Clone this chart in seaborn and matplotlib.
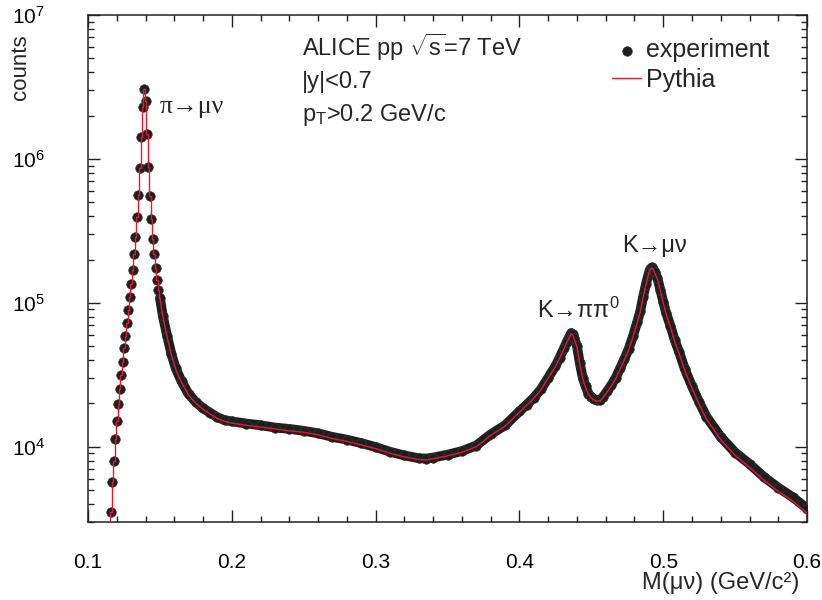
import numpy as np
import pandas as pd
import matplotlib
matplotlib.use("Agg")
import matplotlib.pyplot as plt
import matplotlib.ticker as mticker
import seaborn as sns

# pion peak region, 1 MeV bins (0.116 ... 0.150)
pion_x = np.round(np.arange(0.116, 0.1505, 0.001), 3)
pion_counts = [3500, 5700, 8000, 11400, 15200, 19900, 25300, 31500, 39100, 48400,
               59000, 72300, 88900, 109000, 135000, 169000, 219000, 289000, 393000, 563000,
               861000, 1410000, 2310000, 3050000, 2540000, 1490000, 883000, 553000, 381000, 278000,
               218000, 174000, 145000, 122000, 108000]

# continuum and kaon peaks
mass = [0.152, 0.155, 0.158, 0.161, 0.165, 0.170, 0.175, 0.180, 0.185, 0.190,
        0.195, 0.200, 0.210, 0.220, 0.230, 0.240, 0.250, 0.260, 0.270, 0.280,
        0.290, 0.300, 0.310, 0.320, 0.330, 0.335, 0.340, 0.350, 0.360, 0.370,
        0.380, 0.390, 0.400, 0.405, 0.410, 0.415, 0.420, 0.425, 0.428, 0.431,
        0.433, 0.435, 0.436, 0.437, 0.438, 0.440, 0.442, 0.444, 0.446, 0.448,
        0.450, 0.452, 0.454, 0.456, 0.458, 0.461, 0.464, 0.467, 0.470, 0.473,
        0.476, 0.479, 0.482, 0.484, 0.486, 0.488, 0.490, 0.491, 0.492, 0.493,
        0.494, 0.496, 0.498, 0.500, 0.502, 0.505, 0.508, 0.511, 0.515, 0.520,
        0.525, 0.530, 0.540, 0.550, 0.560, 0.570, 0.580, 0.590, 0.600]
exp_counts = [81000, 59000, 44000, 35000, 28500, 23200, 20400, 18500, 17200, 16000,
              15300, 15000, 14500, 14100, 13600, 13300, 12900, 12400, 11700, 11200,
              10600, 9950, 9230, 8700, 8320, 8280, 8410, 8810, 9330, 10200,
              12200, 14100, 17600, 19600, 21900, 25100, 30200, 36300, 41700, 48400,
              53700, 58900, 61700, 60300, 56900, 50100, 38000, 30200, 26300, 23400,
              22100, 21400, 21000, 21100, 22100, 24300, 26900, 30200, 35100, 40700,
              47900, 58900, 74100, 87100, 110000, 135000, 162000, 172000, 176000, 172000,
              164000, 148000, 123000, 102000, 85100, 69200, 55000, 45700, 34700, 26300,
              20400, 16200, 11700, 9120, 7590, 6170, 5190, 4470, 3720]
pythia_counts = [80000, 58000, 43500, 34500, 28000, 22800, 20000, 18200, 16900, 15700,
                 15000, 14600, 14100, 13700, 13300, 12900, 12600, 12100, 11400, 10900,
                 10300, 9700, 9000, 8500, 8150, 8100, 8250, 8650, 9150, 10000,
                 12000, 13900, 17400, 19400, 21700, 24900, 30000, 36000, 41300, 48000,
                 53200, 58400, 61200, 59800, 56300, 49500, 37500, 29800, 25900, 23100,
                 21800, 21100, 20700, 20800, 21800, 24000, 26500, 29800, 34600, 40200,
                 47300, 58200, 73300, 86200, 109000, 134000, 161000, 171000, 175000, 171000,
                 162000, 146000, 121000, 100000, 83500, 67800, 53700, 44600, 33800, 25500,
                 19700, 15600, 11200, 8700, 7200, 5850, 4900, 4200, 3450]
# empty Pythia bins below threshold sit on the frame bottom
pythia_low_x = [0.100, 0.115]
pythia_low_counts = [3000, 3000]

exp = pd.DataFrame({"m": list(pion_x) + mass, "n": pion_counts + exp_counts})
band = exp[exp["m"] >= 0.150]
pyt_peak = pd.DataFrame({"m": pythia_low_x + list(pion_x),
                         "n": pythia_low_counts + pion_counts})
pyt_rest = pd.DataFrame({"m": [pion_x[-1]] + mass,
                         "n": [pion_counts[-1]] + pythia_counts})

sns.set_style("ticks")
plt.rcParams["font.family"] = ["Liberation Sans", "DejaVu Sans"]
plt.rcParams["mathtext.fontset"] = "custom"
plt.rcParams["mathtext.rm"] = "Liberation Sans"
plt.rcParams["mathtext.it"] = "Liberation Sans:italic"
plt.rcParams["mathtext.default"] = "regular"

fig = plt.figure(figsize=(8.22, 6.0), dpi=100)
ax = fig.add_axes([0.1071, 0.13, 0.8747, 0.845])

sns.lineplot(data=band, x="m", y="n", ax=ax, color="#1e1e1e", linewidth=7.0,
             estimator=None, sort=True, legend=False)
sns.scatterplot(data=exp, x="m", y="n", ax=ax, color="#1e1e1e", s=48,
                edgecolor="#3a3a3a", linewidth=0.4, zorder=3, label="experiment")
sns.lineplot(data=pyt_peak, x="m", y="n", ax=ax, color="#e8192c", linewidth=1.0,
             drawstyle="steps-mid", estimator=None, sort=True, zorder=4, label="Pythia")
sns.lineplot(data=pyt_rest, x="m", y="n", ax=ax, color="#e8192c", linewidth=1.0,
             estimator=None, sort=True, zorder=4, legend=False)

ax.set_yscale("log")
ax.set_xlim(0.1, 0.6)
ax.set_ylim(3000, 1e7)

ax.xaxis.set_major_locator(mticker.MultipleLocator(0.1))
ax.xaxis.set_minor_locator(mticker.MultipleLocator(0.02))
ax.xaxis.set_major_formatter(mticker.FormatStrFormatter("%.1f"))
ax.yaxis.set_major_locator(mticker.LogLocator(base=10, numticks=10))
ax.yaxis.set_minor_locator(mticker.LogLocator(base=10, subs=np.arange(2, 10), numticks=20))
ax.yaxis.set_minor_formatter(mticker.NullFormatter())

ax.tick_params(which="both", direction="in", top=True, right=True, colors="#222222",
               labelcolor="black", width=1.0)
ax.tick_params(which="major", length=8.6)
ax.tick_params(which="minor", length=4.3)
ax.tick_params(axis="x", which="major", labelsize=15, pad=22)
ax.tick_params(axis="y", which="major", labelsize=15, pad=31)
for sp in ax.spines.values():
    sp.set_linewidth(1.1)
    sp.set_color("#222222")

ax.set_xlabel("M(μν) (GeV/c²)", fontsize=17, ha="right", va="center")
ax.xaxis.set_label_coords(0.99, -0.12)
ax.set_ylabel("counts", fontsize=16, ha="right", va="center")
ax.yaxis.set_label_coords(-0.094, 0.962)

ax.text(0.2976, 0.919, r"ALICE pp $\sqrt{s}$=7 TeV", transform=ax.transAxes, fontsize=17)
ax.text(0.2976, 0.856, "|y|<0.7", transform=ax.transAxes, fontsize=17)
ax.text(0.2976, 0.791, r"p$_{T}$>0.2 GeV/c", transform=ax.transAxes, fontsize=17)

ax.text(0.1495, 2.3e6, "π→μν", fontsize=18.5, va="center",
        family=["Liberation Serif", "DejaVu Serif"])
ax.text(0.4125, 8.9e4, r"K→ππ$^{0}$", fontsize=17, va="center")
ax.text(0.4715, 2.5e5, "K→μν", fontsize=17, va="center")

ax.legend(loc="upper right", bbox_to_anchor=(0.962, 0.974), frameon=False, fontsize=18,
          handlelength=1.15, handletextpad=0.2, labelspacing=0.22, borderaxespad=0,
          markerscale=1.0)

fig.savefig("out.png", dpi=100)
